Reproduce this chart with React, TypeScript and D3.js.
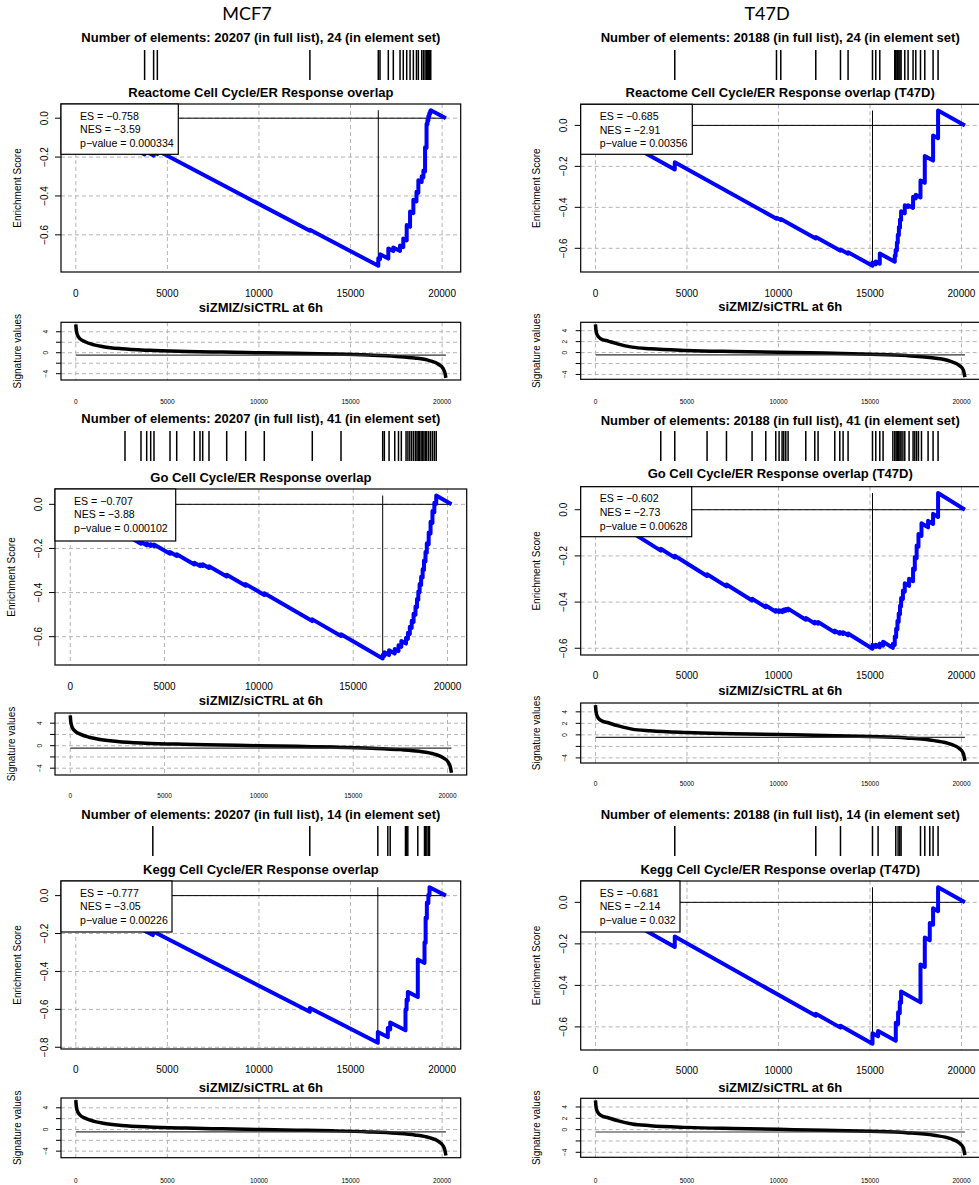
import React from "react";
import * as d3 from "d3";

// ---------------- DATA ----------------
const CELL_LINES = ["MCF7", "T47D"];
const HEADER_X = [247, 767];
const LIST_SIZES = [20207, 20188];
const SET_SIZES = [24, 41, 14];
const SET_TITLES = [
  "Reactome Cell Cycle/ER Response overlap",
  "Go Cell Cycle/ER Response overlap",
  "Kegg Cell Cycle/ER Response overlap",
];
const TITLE_SUFFIX = ["", " (T47D)"];
const SIGNATURE_TITLE = "siZMIZ/siCTRL at 6h";
const X_TICKS = [0, 5000, 10000, 15000, 20000];
const ES_TICKS = [0, -0.2, -0.4, -0.6, -0.8];
const SIG_TICKS = [-4, -2, 0, 2, 4];
const SIG_TICK_LABELS = [
  [-4, 0, 4],
  [-4, 0, 2, 4],
];

const ES_MCF7 = ["−0.758", "−0.707", "−0.777"];
const NES_MCF7 = ["−3.59", "−3.88", "−3.05"];
const PVAL_MCF7 = ["0.000334", "0.000102", "0.00226"];
const ES_T47D = ["−0.685", "−0.602", "−0.681"];
const NES_T47D = ["−2.91", "−2.73", "−2.14"];
const PVAL_T47D = ["0.00356", "0.00628", "0.032"];

// hit positions (rank in the full list) and step weights
const MCF7_REACTOME_HITS = [3757, 4249, 4452, 12781, 16516, 16609, 17063, 17336, 17703, 17880, 18067, 18250, 18430, 18600, 18703, 18886, 18980, 19069, 19150, 19200, 19250, 19300, 19350, 19380];
const MCF7_REACTOME_W = [0.018, 0.018, 0.018, 0.005, 0.039, 0.025, 0.052, 0.019, 0.028, 0.044, 0.079, 0.079, 0.069, 0.049, 0.065, 0.029, 0.034, 0.125, 0.124, 0.022, 0.023, 0.017, 0.013, 0.006];

const MCF7_GO_HITS = [2902, 3750, 4052, 4264, 4439, 5288, 5643, 6576, 6878, 7021, 7355, 8293, 9300, 10286, 12830, 14352, 16562, 16650, 16900, 17200, 17400, 17550, 17800, 17900, 18000, 18100, 18200, 18300, 18380, 18450, 18520, 18600, 18680, 18750, 18830, 18900, 19000, 19100, 19200, 19300, 19400];
const MCF7_GO_W = [0.0071, 0.0071, 0.0071, 0.0071, 0.0071, 0.0071, 0.0071, 0.0071, 0.0071, 0.0071, 0.0071, 0.0071, 0.0071, 0.0071, 0.0071, 0.0071, 0.015, 0.015, 0.02, 0.02, 0.025, 0.025, 0.025, 0.025, 0.03, 0.03, 0.035, 0.035, 0.035, 0.035, 0.035, 0.035, 0.035, 0.04, 0.04, 0.04, 0.05, 0.05, 0.05, 0.04, 0.035];

const MCF7_KEGG_HITS = [4205, 12776, 16490, 17036, 17166, 18000, 18060, 18128, 18673, 19039, 19100, 19167, 19250, 19312];
const MCF7_KEGG_W = [0.02, 0.02, 0.057, 0.047, 0.036, 0.111, 0.053, 0.044, 0.197, 0.108, 0.133, 0.083, 0.044, 0.043];

const T47D_REACTOME_HITS = [4333, 9891, 10126, 12038, 13388, 13803, 15137, 15317, 15536, 16355, 16400, 16470, 16520, 16580, 16640, 16700, 16902, 17082, 17355, 17503, 17760, 17995, 18448, 18721];
const T47D_REACTOME_W = [0.035, 0.005, 0.005, 0.007, 0.006, 0.007, 0.016, 0.014, 0.05, 0.03, 0.03, 0.04, 0.04, 0.04, 0.04, 0.043, 0.04, 0.009, 0.054, 0.017, 0.083, 0.131, 0.123, 0.135];

const T47D_GO_HITS = [3568, 4333, 6098, 7158, 8557, 9306, 9852, 10033, 10197, 10290, 10399, 10525, 11492, 11984, 12164, 13077, 13350, 13530, 13803, 15137, 15317, 15536, 15716, 16250, 16355, 16430, 16500, 16570, 16640, 16700, 16800, 16902, 17137, 17355, 17450, 17550, 17650, 17814, 18175, 18448, 18721];
const T47D_GO_W = [0.0078, 0.0078, 0.0078, 0.0078, 0.0078, 0.0078, 0.0078, 0.0078, 0.0078, 0.0078, 0.0078, 0.0078, 0.0078, 0.0078, 0.0078, 0.0078, 0.0078, 0.0078, 0.0078, 0.017, 0.009, 0.016, 0.017, 0.018, 0.03675, 0.03675, 0.03675, 0.03675, 0.03675, 0.03675, 0.03675, 0.03675, 0.031, 0.0548, 0.0548, 0.0548, 0.0548, 0.0548, 0.028, 0.044, 0.104];

const T47D_KEGG_HITS = [4333, 12038, 13388, 15137, 15443, 16410, 16536, 16628, 16700, 17760, 17995, 18268, 18448, 18721];
const T47D_KEGG_W = [0.05, 0.01, 0.009, 0.051, 0.026, 0.087, 0.057, 0.054, 0.054, 0.182, 0.142, 0.084, 0.079, 0.115];

// ranked signature (rank, value)
const SIG_MCF7_RANK = [0, 30, 100, 250, 500, 1000, 1500, 2500, 4000, 6000, 8000, 10000, 12000, 14000, 16000, 17500, 18500, 19300, 19800, 20050, 20150, 20207];
const SIG_MCF7_VALUE = [5.4, 4.2, 3.3, 2.6, 2.1, 1.5, 1.15, 0.75, 0.45, 0.25, 0.12, 0.0, -0.12, -0.25, -0.45, -0.7, -1.0, -1.5, -2.2, -3.0, -3.8, -4.8];
const SIG_T47D_RANK = [0, 30, 100, 300, 700, 1200, 2000, 3000, 5000, 7500, 10000, 12500, 15000, 17000, 18500, 19400, 19900, 20100, 20188];
const SIG_T47D_VALUE = [5.15, 4.0, 3.2, 2.5, 2.1, 1.6, 1.0, 0.7, 0.4, 0.2, 0.05, -0.1, -0.3, -0.55, -1.0, -1.6, -2.4, -3.2, -4.5];
const SIG_REFERENCE = [-0.45, -0.42];

const HITS = [
  [MCF7_REACTOME_HITS, MCF7_GO_HITS, MCF7_KEGG_HITS],
  [T47D_REACTOME_HITS, T47D_GO_HITS, T47D_KEGG_HITS],
];
const WEIGHTS = [
  [MCF7_REACTOME_W, MCF7_GO_W, MCF7_KEGG_W],
  [T47D_REACTOME_W, T47D_GO_W, T47D_KEGG_W],
];
const STATS = [
  [ES_MCF7, NES_MCF7, PVAL_MCF7],
  [ES_T47D, NES_T47D, PVAL_T47D],
];
const SIG_RANKS = [SIG_MCF7_RANK, SIG_T47D_RANK];
const SIG_VALUES = [SIG_MCF7_VALUE, SIG_T47D_VALUE];

// ---------------- LAYOUT ----------------
const LAYOUT = [
  [
    { x0: 61, x1: 460.7, titleY: 37, barTop: 50, barBot: 80, esTitleY: 92, y0: 104, y1: 272, xLabY: 293, sigTitleY: 307, sy0: 322.3, sy1: 380, sigLabY: 401, legW: 117.3, legH: 50.3 },
    { x0: 55, x1: 466.7, titleY: 418, barTop: 431, barBot: 461, esTitleY: 477, y0: 489, y1: 665, xLabY: 686, sigTitleY: 700, sy0: 713, sy1: 775, sigLabY: 795, legW: 120.7, legH: 52 },
    { x0: 61, x1: 460.7, titleY: 814, barTop: 826, barBot: 856, esTitleY: 869, y0: 881, y1: 1049, xLabY: 1069.5, sigTitleY: 1087, sy0: 1098, sy1: 1157.7, sigLabY: 1180, legW: 111, legH: 51 },
  ],
  [
    { x0: 580.7, x1: 979.7, titleY: 37, barTop: 50, barBot: 80, esTitleY: 92, y0: 104.3, y1: 272, xLabY: 293, sigTitleY: 306, sy0: 322.3, sy1: 379.3, sigLabY: 401, legW: 111.6, legH: 50 },
    { x0: 580.7, x1: 979.7, titleY: 420, barTop: 431, barBot: 461, esTitleY: 473, y0: 486.7, y1: 655, xLabY: 675.5, sigTitleY: 690, sy0: 703, sy1: 763, sigLabY: 783, legW: 111, legH: 50 },
    { x0: 580.7, x1: 979.7, titleY: 814, barTop: 826, barBot: 856, esTitleY: 869, y0: 881, y1: 1050, xLabY: 1070.5, sigTitleY: 1087, sy0: 1098.3, sy1: 1157.3, sigLabY: 1180, legW: 99.3, legH: 51 },
  ],
];

const FONT = "'Liberation Sans', Arial, Helvetica, sans-serif";
const GRID = "#b4b4b4";
const fmtMinus = (v: number, digits: number) => {
  const s = Math.abs(v).toFixed(digits);
  return v < 0 ? "−" + s : s;
};

function runningES(n: number, hits: number[], w: number[]) {
  const total = d3.sum(w);
  const step = 1 / (n - hits.length);
  const pts: [number, number][] = [[0, 0]];
  let cum = 0;
  hits.forEach((h, i) => {
    pts.push([h, cum - (h - i) * step]);
    cum += w[i] / total;
    pts.push([h, cum - (h - i) * step]);
  });
  pts.push([n, cum - (n - hits.length) * step]);
  return pts;
}

function Panel({ col, row }: { col: number; row: number }) {
  const L = LAYOUT[col][row];
  const n = LIST_SIZES[col];
  const hits = HITS[col][row];
  const pts = runningES(n, hits, WEIGHTS[col][row]);
  const [eMin, eMax] = d3.extent(pts, (p) => p[1]) as [number, number];
  const ePad = (eMax - eMin) * 0.04;
  const x = d3.scaleLinear().domain([-0.04 * n, 1.04 * n]).range([L.x0, L.x1]);
  const y = d3.scaleLinear().domain([eMin - ePad, eMax + ePad]).range([L.y1, L.y0]);
  const minPt = pts.reduce((a, b) => (b[1] < a[1] ? b : a));
  const line = d3.line<[number, number]>().x((d) => x(d[0])).y((d) => y(d[1]));

  const ranks = SIG_RANKS[col];
  const vals = SIG_VALUES[col];
  const [sMin, sMax] = d3.extent(vals) as [number, number];
  const sPad = (sMax - sMin) * 0.04;
  const ys = d3.scaleLinear().domain([sMin - sPad, sMax + sPad]).range([L.sy1, L.sy0]);
  const sigPts = ranks.map((r, i) => [r, vals[i]] as [number, number]);
  const sigLine = d3
    .line<[number, number]>()
    .x((d) => x(d[0]))
    .y((d) => ys(d[1]))
    .curve(d3.curveMonotoneX);

  const cx = (L.x0 + L.x1) / 2;
  const esTicks = ES_TICKS.filter((t) => t >= y.domain()[0] && t <= y.domain()[1]);
  const stats = STATS[col];
  const legendLines = [
    `ES = ${stats[0][row]}`,
    `NES = ${stats[1][row]}`,
    `p−value = ${stats[2][row]}`,
  ];

  return (
    <g fontFamily={FONT}>
      <text x={cx} y={L.titleY} textAnchor="middle" dominantBaseline="central" fontWeight="bold" fontSize={13}>
        {`Number of elements: ${n} (in full list), ${SET_SIZES[row]} (in element set)`}
      </text>
      {hits.map((h, i) => (
        <line key={i} x1={x(h)} x2={x(h)} y1={L.barTop} y2={L.barBot} stroke="#000" strokeWidth={1.5} />
      ))}
      <text x={cx} y={L.esTitleY} textAnchor="middle" dominantBaseline="central" fontWeight="bold" fontSize={13}>
        {SET_TITLES[row] + TITLE_SUFFIX[col]}
      </text>

      {/* ES grid */}
      {X_TICKS.map((t) => (
        <line key={"gx" + t} x1={x(t)} x2={x(t)} y1={L.y0} y2={L.y1} stroke={GRID} strokeDasharray="4,3" />
      ))}
      {esTicks.map((t) => (
        <line key={"gy" + t} x1={L.x0} x2={L.x1} y1={y(t)} y2={y(t)} stroke={GRID} strokeDasharray="4,3" />
      ))}
      <line x1={x(0)} x2={x(n)} y1={y(0)} y2={y(0)} stroke="#000" strokeWidth={1} />
      <line x1={x(minPt[0])} x2={x(minPt[0])} y1={y(minPt[1])} y2={y(eMax)} stroke="#000" strokeWidth={1} />
      <path d={line(pts) || ""} fill="none" stroke="#0000ff" strokeWidth={4} strokeLinejoin="round" />
      <rect x={L.x0} y={L.y0} width={L.x1 - L.x0} height={L.y1 - L.y0} fill="none" stroke="#000" strokeWidth={1.2} />
      <rect x={L.x0} y={L.y0} width={L.legW} height={L.legH} fill="#fff" stroke="#000" strokeWidth={1.2} />
      {legendLines.map((s, i) => (
        <text key={s} x={L.x0 + 19} y={L.y0 + 11.7 + i * 13.6} dominantBaseline="central" fontSize={10.6}>
          {s}
        </text>
      ))}
      {esTicks.map((t) => (
        <g key={"ty" + t}>
          <line x1={L.x0 - 6} x2={L.x0} y1={y(t)} y2={y(t)} stroke="#000" />
          <text transform={`translate(${L.x0 - 17},${y(t)}) rotate(-90)`} textAnchor="middle" dominantBaseline="central" fontSize={10}>
            {fmtMinus(t, 1)}
          </text>
        </g>
      ))}
      <text transform={`translate(${L.x0 - 44},${(L.y0 + L.y1) / 2}) rotate(-90)`} textAnchor="middle" dominantBaseline="central" fontSize={10}>
        Enrichment Score
      </text>
      {X_TICKS.map((t) => (
        <text key={"lx" + t} x={x(t)} y={L.xLabY} textAnchor="middle" dominantBaseline="central" fontSize={10}>
          {t}
        </text>
      ))}

      {/* signature */}
      <text x={cx} y={L.sigTitleY} textAnchor="middle" dominantBaseline="central" fontWeight="bold" fontSize={13}>
        {SIGNATURE_TITLE}
      </text>
      {X_TICKS.map((t) => (
        <line key={"sgx" + t} x1={x(t)} x2={x(t)} y1={L.sy0} y2={L.sy1} stroke={GRID} strokeDasharray="4,3" />
      ))}
      {SIG_TICKS.map((t) => (
        <line key={"sgy" + t} x1={L.x0} x2={L.x1} y1={ys(t)} y2={ys(t)} stroke={GRID} strokeDasharray="4,3" />
      ))}
      <path d={sigLine(sigPts) || ""} fill="none" stroke="#000" strokeWidth={3.5} strokeLinejoin="round" />
      <line x1={x(0)} x2={x(n)} y1={ys(SIG_REFERENCE[col])} y2={ys(SIG_REFERENCE[col])} stroke="#333" strokeWidth={1.2} />
      <rect x={L.x0} y={L.sy0} width={L.x1 - L.x0} height={L.sy1 - L.sy0} fill="none" stroke="#000" strokeWidth={1.2} />
      {SIG_TICKS.map((t) => (
        <line key={"sty" + t} x1={L.x0 - 5} x2={L.x0} y1={ys(t)} y2={ys(t)} stroke="#000" />
      ))}
      {SIG_TICK_LABELS[col].map((t) => (
        <text key={"stl" + t} transform={`translate(${L.x0 - 16},${ys(t)}) rotate(-90)`} textAnchor="middle" dominantBaseline="central" fontSize={6.5}>
          {fmtMinus(t, 0)}
        </text>
      ))}
      <text transform={`translate(${L.x0 - 44},${(L.sy0 + L.sy1) / 2}) rotate(-90)`} textAnchor="middle" dominantBaseline="central" fontSize={10}>
        Signature values
      </text>
      {X_TICKS.map((t) => (
        <text key={"slx" + t} x={x(t)} y={L.sigLabY} textAnchor="middle" dominantBaseline="central" fontSize={6.5}>
          {t}
        </text>
      ))}
    </g>
  );
}

export default function App() {
  return (
    <svg
      width={979}
      height={1185}
      style={{ position: "absolute", left: 0, top: 0, background: "#fff" }}
    >
      <rect x={0} y={0} width={979} height={1185} fill="#fff" />
      {CELL_LINES.map((c, i) => (
        <text key={c} x={HEADER_X[i]} y={13} textAnchor="middle" dominantBaseline="central" fontFamily="Lato, 'Open Sans', sans-serif" fontSize={18}>
          {c}
        </text>
      ))}
      {[0, 1].map((col) => [0, 1, 2].map((row) => <Panel key={col + "-" + row} col={col} row={row} />))}
    </svg>
  );
}
